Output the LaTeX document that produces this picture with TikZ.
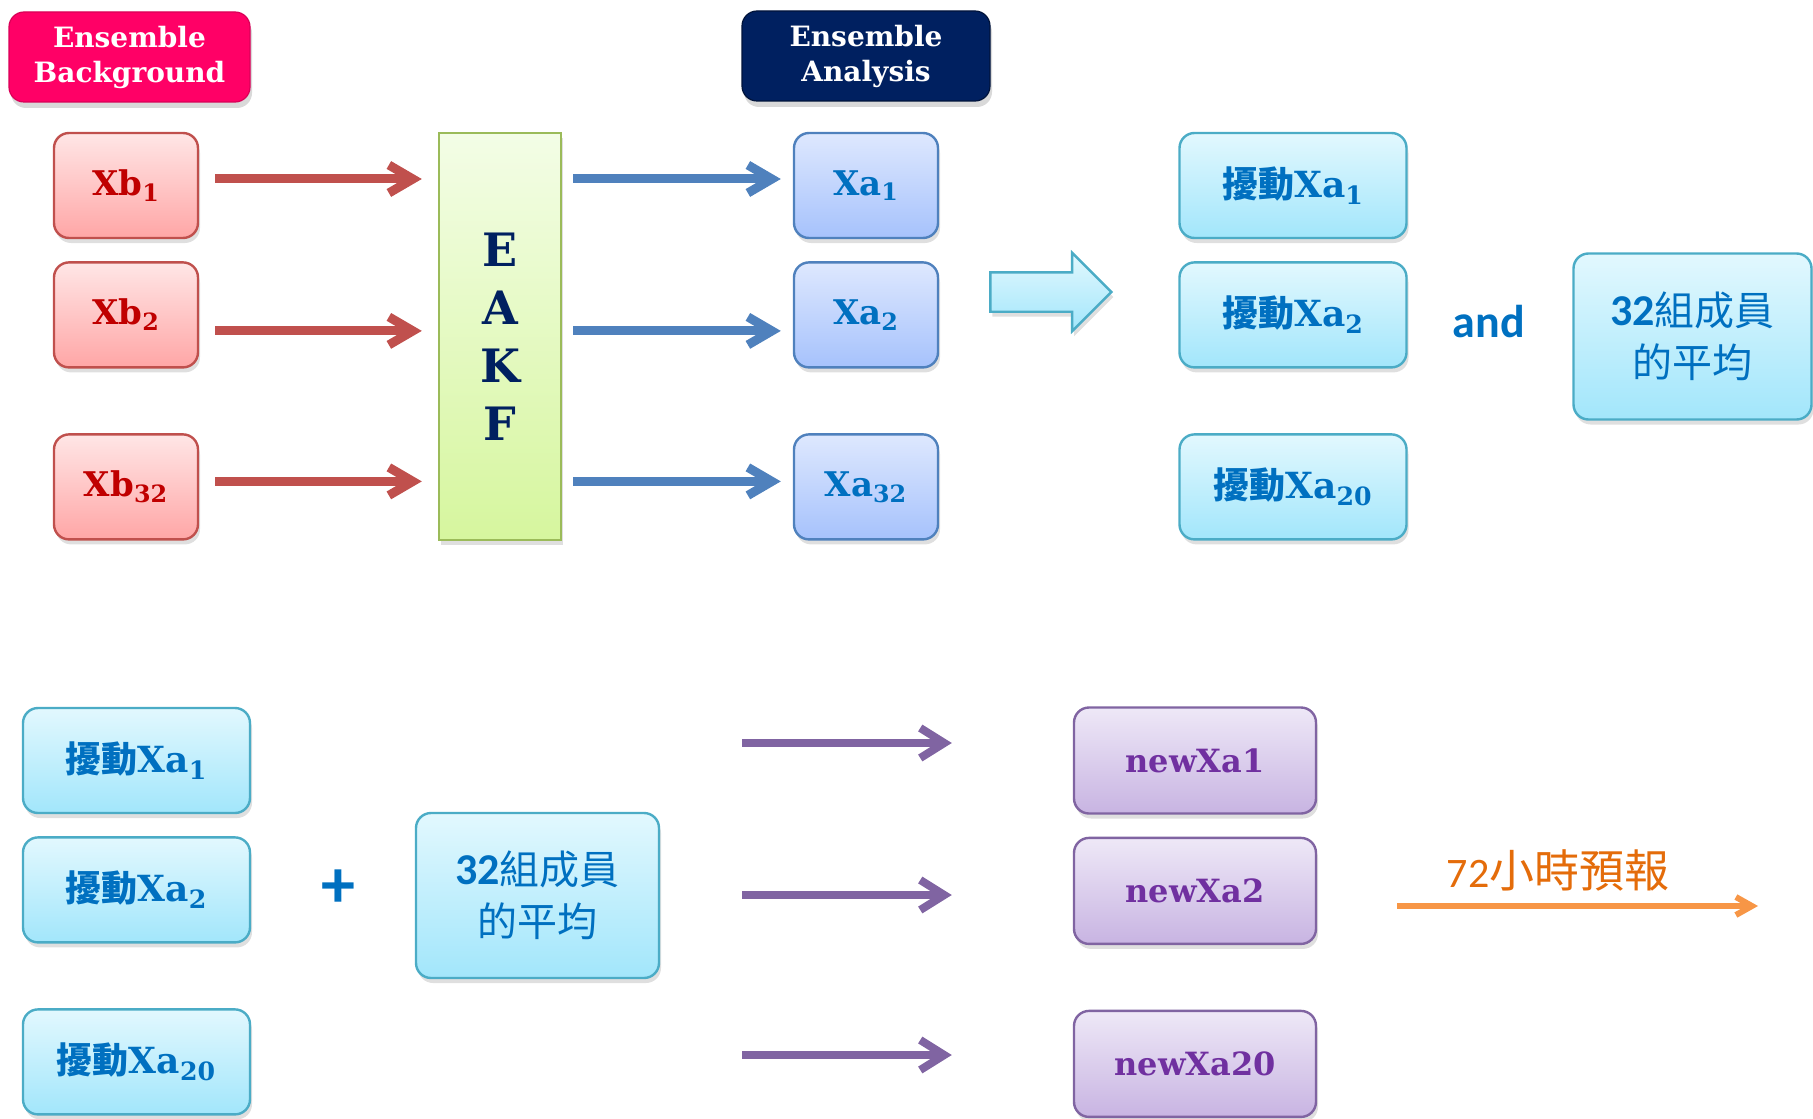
\documentclass[tikz,border=0pt]{standalone}
\usepackage{fontspec}
\setmainfont{DejaVu Serif}
\newfontfamily\cjk{Noto Sans CJK TC}
\newfontfamily\calibri{Carlito}
\usepackage{tikz}
\usetikzlibrary{positioning,shapes.arrows,shadows,arrows.meta}
\tikzset{every picture/.style={line width=0.8pt}}

\definecolor{xbtop}{HTML}{FFE6E6}
\definecolor{xbbot}{HTML}{FFA6A6}
\definecolor{xbline}{HTML}{C0504D}
\definecolor{xbtext}{HTML}{C00000}
\definecolor{xatop}{HTML}{DEE8FE}
\definecolor{xabot}{HTML}{A6C2FC}
\definecolor{xaline}{HTML}{4F81BD}
\definecolor{cytop}{HTML}{E2F8FE}
\definecolor{cybot}{HTML}{A2E6FB}
\definecolor{cyline}{HTML}{4BACC6}
\definecolor{bluetext}{HTML}{0070C0}
\definecolor{putop}{HTML}{EEE8F7}
\definecolor{pubot}{HTML}{C8B4E2}
\definecolor{puline}{HTML}{8064A2}
\definecolor{putext}{HTML}{7030A0}
\definecolor{eakftop}{HTML}{F3FDE6}
\definecolor{eakfbot}{HTML}{D6F69E}
\definecolor{eakfline}{HTML}{9BBB59}
\definecolor{navy}{HTML}{002060}
\definecolor{ensbg}{HTML}{FF0066}
\definecolor{orangeline}{HTML}{F79646}
\definecolor{orangetext}{HTML}{E46C0A}

\tikzset{
  box/.style={draw, rounded corners=7.5pt, line width=1.2pt, align=center, inner sep=0pt,
    minimum width=72pt, minimum height=52.5pt,
    drop shadow={shadow xshift=1pt, shadow yshift=-2.5pt, opacity=0.25}},
  xbbox/.style={box, draw=xbline, top color=xbtop, bottom color=xbbot, text=xbtext,
    font=\bfseries\fontsize{17}{20}\selectfont},
  xabox/.style={box, draw=xaline, top color=xatop, bottom color=xabot, text=bluetext,
    font=\bfseries\fontsize{17}{20}\selectfont},
  pertbox/.style={box, draw=cyline, top color=cytop, bottom color=cybot, text=bluetext,
    minimum width=113.5pt, font=\bfseries\fontsize{18}{22}\selectfont},
  meanbox/.style={box, draw=cyline, top color=cytop, bottom color=cybot, text=bluetext,
    minimum width=120pt, minimum height=83pt, font=\cjk\fontsize{20}{26}\selectfont},
  newbox/.style={box, draw=puline, top color=putop, bottom color=pubot, text=putext,
    minimum width=121pt, minimum height=53pt, font=\bfseries\fontsize{16}{20}\selectfont},
  headbox/.style={rounded corners=7.5pt, align=center, inner sep=0pt, text=white,
    minimum width=120.5pt, minimum height=45pt, font=\bfseries\fontsize{14}{17.5}\selectfont,
    drop shadow={shadow xshift=1pt, shadow yshift=-3pt, opacity=0.3}},
  eakfbox/.style={draw=eakfline, line width=1.2pt, top color=eakftop, bottom color=eakfbot,
    minimum width=61pt, minimum height=203.5pt, align=center, text=navy,
    font=\bfseries\fontsize{23}{29}\selectfont,
    drop shadow={shadow xshift=1pt, shadow yshift=-2.5pt, opacity=0.25}},
  bigarrow/.style={single arrow, draw=cyline, line width=1.2pt, top color=cytop, bottom color=cybot,
    single arrow head extend=9.75pt, minimum height=60.5pt, minimum width=38pt, inner sep=9.25pt,
    drop shadow={shadow xshift=1pt, shadow yshift=-2.5pt, opacity=0.25}},
  redarrow/.style={draw=xbline, line width=4.5pt, -{Straight Barb[length=12pt,width=14pt]}},
  bluearrow/.style={draw=xaline, line width=4.5pt, -{Straight Barb[length=12pt,width=14pt]}},
  purplearrow/.style={draw=puline, line width=4pt, -{Straight Barb[length=12pt,width=15pt]}},
  orangearrow/.style={draw=orangeline, line width=3pt, -{Straight Barb[length=8pt,width=9pt]}},
}

\begin{document}
\begin{tikzpicture}[x=0.5pt, y=-0.5pt]
    \useasboundingbox (0,0) rectangle (1813,1118);

    % Headers
    \node[headbox, fill=ensbg, draw=ensbg!85!black, line width=0.6pt] (bghead) at (129.5,57) {Ensemble\\Background};
    \node[headbox, fill=navy, draw=navy!60!black, line width=0.6pt, minimum width=124pt] (anhead) at (866,56) {Ensemble\\Analysis};

    % Background members
    \node[xbbox] (xb1) at (126,185.5) {Xb\textsubscript{1}};
    \node[xbbox, below=11pt of xb1] (xb2) {Xb\textsubscript{2}};
    \node[xbbox, below=32.3pt of xb2] (xb32) {Xb\textsubscript{32}};

    % Filter
    \node[eakfbox] (eakf) at (500,336.5) {E\\A\\K\\F};

    % Analysis members
    \node[xabox] (xa1) at (866,185.5) {Xa\textsubscript{1}};
    \node[xabox, below=11pt of xa1] (xa2) {Xa\textsubscript{2}};
    \node[xabox, below=32.3pt of xa2] (xa32) {Xa\textsubscript{32}};

    % Into and out of the filter
    \draw[redarrow, shorten <=8pt, shorten >=8pt] ([yshift=3.25pt]xb1.east) -- ([yshift=3.25pt]xb1.east -| eakf.west);
    \draw[redarrow, shorten <=8pt, shorten >=8pt] ([yshift=-8pt]xb2.east) -- ([yshift=-8pt]xb2.east -| eakf.west);
    \draw[redarrow, shorten <=8pt, shorten >=8pt] ([yshift=2.75pt]xb32.east) -- ([yshift=2.75pt]xb32.east -| eakf.west);
    \draw[bluearrow, shorten <=5.5pt, shorten >=6pt] ([yshift=3.25pt]xa1.west -| eakf.east) -- ([yshift=3.25pt]xa1.west);
    \draw[bluearrow, shorten <=5.5pt, shorten >=6pt] ([yshift=-8pt]xa2.west -| eakf.east) -- ([yshift=-8pt]xa2.west);
    \draw[bluearrow, shorten <=5.5pt, shorten >=6pt] ([yshift=2.75pt]xa32.west -| eakf.east) -- ([yshift=2.75pt]xa32.west);

    % Perturbations and mean
    \node[bigarrow] (go) at (1041,292) {};
    \node[pertbox] (pt1) at (1293,185.5) {{\cjk 擾動}Xa\textsubscript{1}};
    \node[pertbox, below=11pt of pt1] (pt2) {{\cjk 擾動}Xa\textsubscript{2}};
    \node[pertbox, below=32.3pt of pt2] (pt20) {{\cjk 擾動}Xa\textsubscript{20}};
    \node[font=\calibri\bfseries\fontsize{23}{28}\selectfont, text=bluetext] (and) at (1489,322) {and};
    \node[meanbox, minimum width=119pt] (mean) at (1692.5,336.5) {{\calibri\bfseries\fontsize{22}{26}\selectfont 32}組成員\\的平均};

    % Bottom row
    \node[pertbox] (qa1) at (136.5,760.5) {{\cjk 擾動}Xa\textsubscript{1}};
    \node[pertbox, below=11pt of qa1] (qa2) {{\cjk 擾動}Xa\textsubscript{2}};
    \node[pertbox, below=32.3pt of qa2] (qa20) {{\cjk 擾動}Xa\textsubscript{20}};
    \node[font=\calibri\bfseries\fontsize{34}{40}\selectfont, text=bluetext] (plus) at (338,889) {+};
    \node[meanbox, minimum width=121.5pt, minimum height=82.5pt] (mean2) at (537.5,895.5) {{\calibri\bfseries\fontsize{22}{26}\selectfont 32}組成員\\的平均};

    % New members
    \node[newbox] (nx1) at (1195,760.5) {newXa1};
    \node[newbox, below=11pt of nx1] (nx2) {newXa2};
    \node[newbox, below=32.3pt of nx2] (nx20) {newXa20};

    \coordinate (pa1) at (742,743);
    \coordinate (pa2) at (742,895);
    \coordinate (pa20) at (742,1055);
    \draw[purplearrow, shorten >=60.5pt] (pa1) -- (pa1 -| nx1.west);
    \draw[purplearrow, shorten >=60.5pt] (pa2) -- (pa2 -| nx2.west);
    \draw[purplearrow, shorten >=60.5pt] (pa20) -- (pa20 -| nx20.west);

    % Forecast
    \coordinate (fc0) at (1397,906);
    \coordinate (fc1) at (1758,906);
    \draw[orangearrow] (fc0) -- (fc1);
    \node[text=orangetext] (fclabel) at (1558,870) {{\calibri\fontsize{21}{25}\selectfont 72}{\cjk\fontsize{22.5}{26}\selectfont 小時預報}};
\end{tikzpicture}
\end{document}
